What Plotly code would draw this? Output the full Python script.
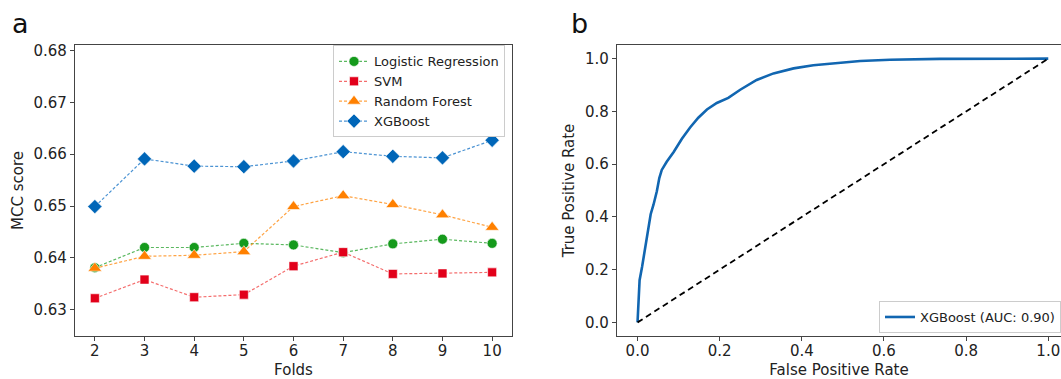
import plotly.graph_objects as go

folds = [2, 3, 4, 5, 6, 7, 8, 9, 10]
lr = [0.6381, 0.6420, 0.6420, 0.6428, 0.6425, 0.6410, 0.6427, 0.6436, 0.6428]
svm = [0.6322, 0.6358, 0.6324, 0.6329, 0.6384, 0.6411, 0.6369, 0.6370, 0.6372]
rf = [0.6380, 0.6403, 0.6405, 0.6412, 0.6499, 0.6520, 0.6503, 0.6483, 0.6459]
xgb = [0.6499, 0.6591, 0.6577, 0.6576, 0.6587, 0.6605, 0.6596, 0.6593, 0.6627]

fpr = [0.0, 0.002, 0.005, 0.011, 0.016, 0.021, 0.027, 0.032, 0.039, 0.047, 0.053,
       0.059, 0.071, 0.088, 0.108, 0.128, 0.148, 0.169, 0.193, 0.221, 0.25, 0.29,
       0.331, 0.38, 0.428, 0.493, 0.542, 0.615, 0.736, 1.0]
tpr = [0.0, 0.087, 0.16, 0.21, 0.26, 0.31, 0.36, 0.41, 0.447, 0.497, 0.547,
       0.578, 0.609, 0.646, 0.696, 0.739, 0.776, 0.807, 0.832, 0.851, 0.882, 0.919,
       0.944, 0.963, 0.975, 0.984, 0.991, 0.996, 0.999, 1.0]
diag = [0.0, 1.0]

FONT = "DejaVu Sans"
fig = go.Figure()

series = [
    ("Logistic Regression", lr, "#159a1c", "rgba(21,154,28,0.7)", "circle", 10),
    ("SVM", svm, "#e2001a", "rgba(240,60,60,0.75)", "square", 9),
    ("Random Forest", rf, "#ff8000", "rgba(255,140,20,0.8)", "triangle-up", 12),
    ("XGBoost", xgb, "#0066b8", "rgba(30,120,200,0.8)", "diamond", 11),
]
for name, vals, mc, lc, sym, sz in series:
    fig.add_trace(go.Scatter(
        x=folds, y=vals, name=name, mode="lines+markers",
        line=dict(color=lc, width=1.2, dash="3px,2px"),
        marker=dict(symbol=sym, size=sz, color=mc, line=dict(color="white", width=0.6)),
        xaxis="x", yaxis="y", legend="legend",
    ))

fig.add_trace(go.Scatter(
    x=fpr, y=tpr, name="XGBoost (AUC: 0.90)", mode="lines",
    line=dict(color="#1166b1", width=2.6),
    xaxis="x2", yaxis="y2", legend="legend2",
))
fig.add_trace(go.Scatter(
    x=diag, y=diag, mode="lines", showlegend=False,
    line=dict(color="black", width=1.8, dash="6px,4px"),
    xaxis="x2", yaxis="y2",
))

axis_common = dict(
    showgrid=False, zeroline=False, showline=True, linecolor="#444", linewidth=1.4,
    ticks="outside", ticklen=4, tickcolor="#444", tickwidth=1,
    tickfont=dict(family=FONT, size=15, color="#222"),
)

ydom = [1 - 336 / 379, 1 - 42 / 379]
fig.update_layout(
    width=1061, height=379,
    margin=dict(l=0, r=0, t=0, b=0),
    paper_bgcolor="white", plot_bgcolor="white",
    font=dict(family=FONT, color="#222"),
    xaxis=dict(axis_common, domain=[75 / 1061, 512 / 1061], range=[1.6, 10.4],
               tickvals=folds, mirror=True, ticklabelstandoff=-3,
               title=dict(text="Folds", font=dict(family=FONT, size=15), standoff=9)),
    yaxis=dict(axis_common, domain=ydom, range=[0.625, 0.681],
               tickvals=[0.63, 0.64, 0.65, 0.66, 0.67, 0.68], tickformat=".2f", mirror=True,
               title=dict(text="MCC score", font=dict(family=FONT, size=15), standoff=6)),
    xaxis2=dict(axis_common, domain=[617 / 1061, 1.0], range=[-0.05, 1.031],
                tickvals=[0, 0.2, 0.4, 0.6, 0.8, 1.0], tickformat=".1f", mirror=True,
                anchor="y2", ticklabelstandoff=-3,
                title=dict(text="False Positive Rate", font=dict(family=FONT, size=15), standoff=9)),
    yaxis2=dict(axis_common, domain=ydom, range=[-0.05, 1.05],
                tickvals=[0, 0.2, 0.4, 0.6, 0.8, 1.0], tickformat=".1f", mirror=False,
                anchor="x2",
                title=dict(text="True Positive Rate", font=dict(family=FONT, size=15), standoff=6)),
    legend=dict(x=505 / 1061, xanchor="right", y=1 - 42 / 379, yanchor="top",
                bgcolor="white", bordercolor="#cccccc", borderwidth=1,
                font=dict(family=FONT, size=13, color="#222"), tracegroupgap=0),
    legend2=dict(x=879 / 1061, xanchor="left", y=1 - 301 / 379, yanchor="top",
                 bgcolor="white", bordercolor="#cccccc", borderwidth=1,
                 font=dict(family=FONT, size=13, color="#222")),
    annotations=[
        dict(text="a", x=10 / 1061, y=1 - 20 / 379, xref="paper", yref="paper",
             xanchor="left", yanchor="middle", showarrow=False,
             font=dict(family=FONT, size=27, color="#111")),
        dict(text="b", x=569 / 1061, y=1 - 20 / 379, xref="paper", yref="paper",
             xanchor="left", yanchor="middle", showarrow=False,
             font=dict(family=FONT, size=27, color="#111")),
    ],
)

fig.write_html("out.html", config={"displayModeBar": False},
               post_script="document.body.style.margin='0';document.body.style.overflow='hidden';")
